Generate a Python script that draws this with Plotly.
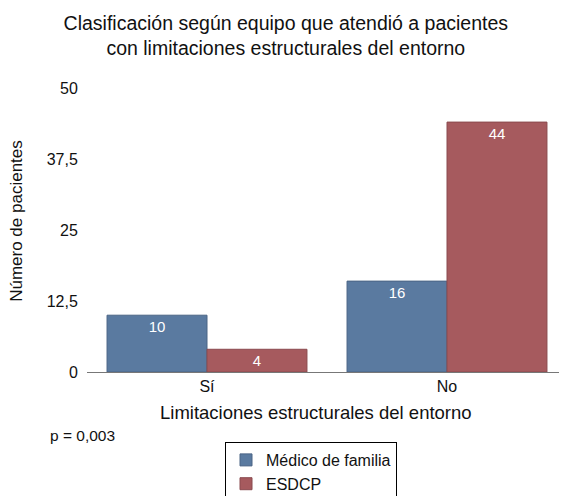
import plotly.graph_objects as go

categorias = ["Sí", "No"]
medico_familia = [10, 16]
esdcp = [4, 44]
y_ticks = [0, 12.5, 25, 37.5, 50]
y_tick_labels = ["0", "12,5", "25", "37,5", "50"]

font_family = "Liberation Sans, Arial, sans-serif"

fig = go.Figure()
fig.add_trace(
    go.Bar(
        x=categorias,
        y=medico_familia,
        name="Médico de familia",
        marker=dict(color="#5a7aa0", line=dict(color="#4a6485", width=1)),
        text=medico_familia,
        textposition="inside",
        insidetextanchor="end",
        textangle=0,
        constraintext="none",
        textfont=dict(color="white", size=15, family=font_family),
    )
)
fig.add_trace(
    go.Bar(
        x=categorias,
        y=esdcp,
        name="ESDCP",
        marker=dict(color="#a65a5e", line=dict(color="#8a4a4e", width=1)),
        text=esdcp,
        textposition="inside",
        insidetextanchor="end",
        textangle=0,
        constraintext="none",
        textfont=dict(color="white", size=15, family=font_family),
    )
)

# la página añade 8 px de margen al cuerpo, por eso la figura es algo menor
fig.update_layout(
    width=559,
    height=488,
    margin=dict(l=79, r=0, t=80, b=124, autoexpand=False),
    paper_bgcolor="white",
    plot_bgcolor="white",
    barmode="group",
    bargap=0.167,
    bargroupgap=0,
    font=dict(family=font_family, color="#111111"),
    title=dict(
        text="Clasificación según equipo que atendió a pacientes<br>con limitaciones estructurales del entorno",
        x=0.497,
        xref="container",
        y=0.955,
        yanchor="middle",
        font=dict(size=19.5),
    ),
    xaxis=dict(
        showline=True,
        linecolor="#777777",
        linewidth=1,
        showgrid=False,
        ticks="",
        tickfont=dict(size=16),
    ),
    yaxis=dict(
        range=[0, 50],
        tickvals=y_ticks,
        ticktext=y_tick_labels,
        showgrid=False,
        showline=False,
        zeroline=False,
        ticks="outside",
        ticklen=5,
        tickcolor="white",
        tickfont=dict(size=16),
    ),
    legend=dict(
        x=0.2875,
        y=-0.2465,
        xanchor="left",
        yanchor="top",
        bordercolor="black",
        borderwidth=1,
        font=dict(size=16),
        itemwidth=30,
        tracegroupgap=0,
    ),
    annotations=[
        dict(
            text="Limitaciones estructurales del entorno",
            xref="paper",
            yref="paper",
            x=0.477,
            y=-0.141,
            xanchor="center",
            yanchor="middle",
            showarrow=False,
            font=dict(size=18.5),
        ),
        dict(
            text="Número de pacientes",
            xref="paper",
            yref="paper",
            x=-0.146,
            y=0.532,
            textangle=-90,
            xanchor="center",
            yanchor="middle",
            showarrow=False,
            font=dict(size=17),
        ),
        dict(
            text="p = 0,003",
            xref="paper",
            yref="paper",
            x=-0.081,
            y=-0.222,
            xanchor="left",
            yanchor="middle",
            showarrow=False,
            font=dict(size=15.5),
        ),
    ],
)

fig.write_html("out.html")
